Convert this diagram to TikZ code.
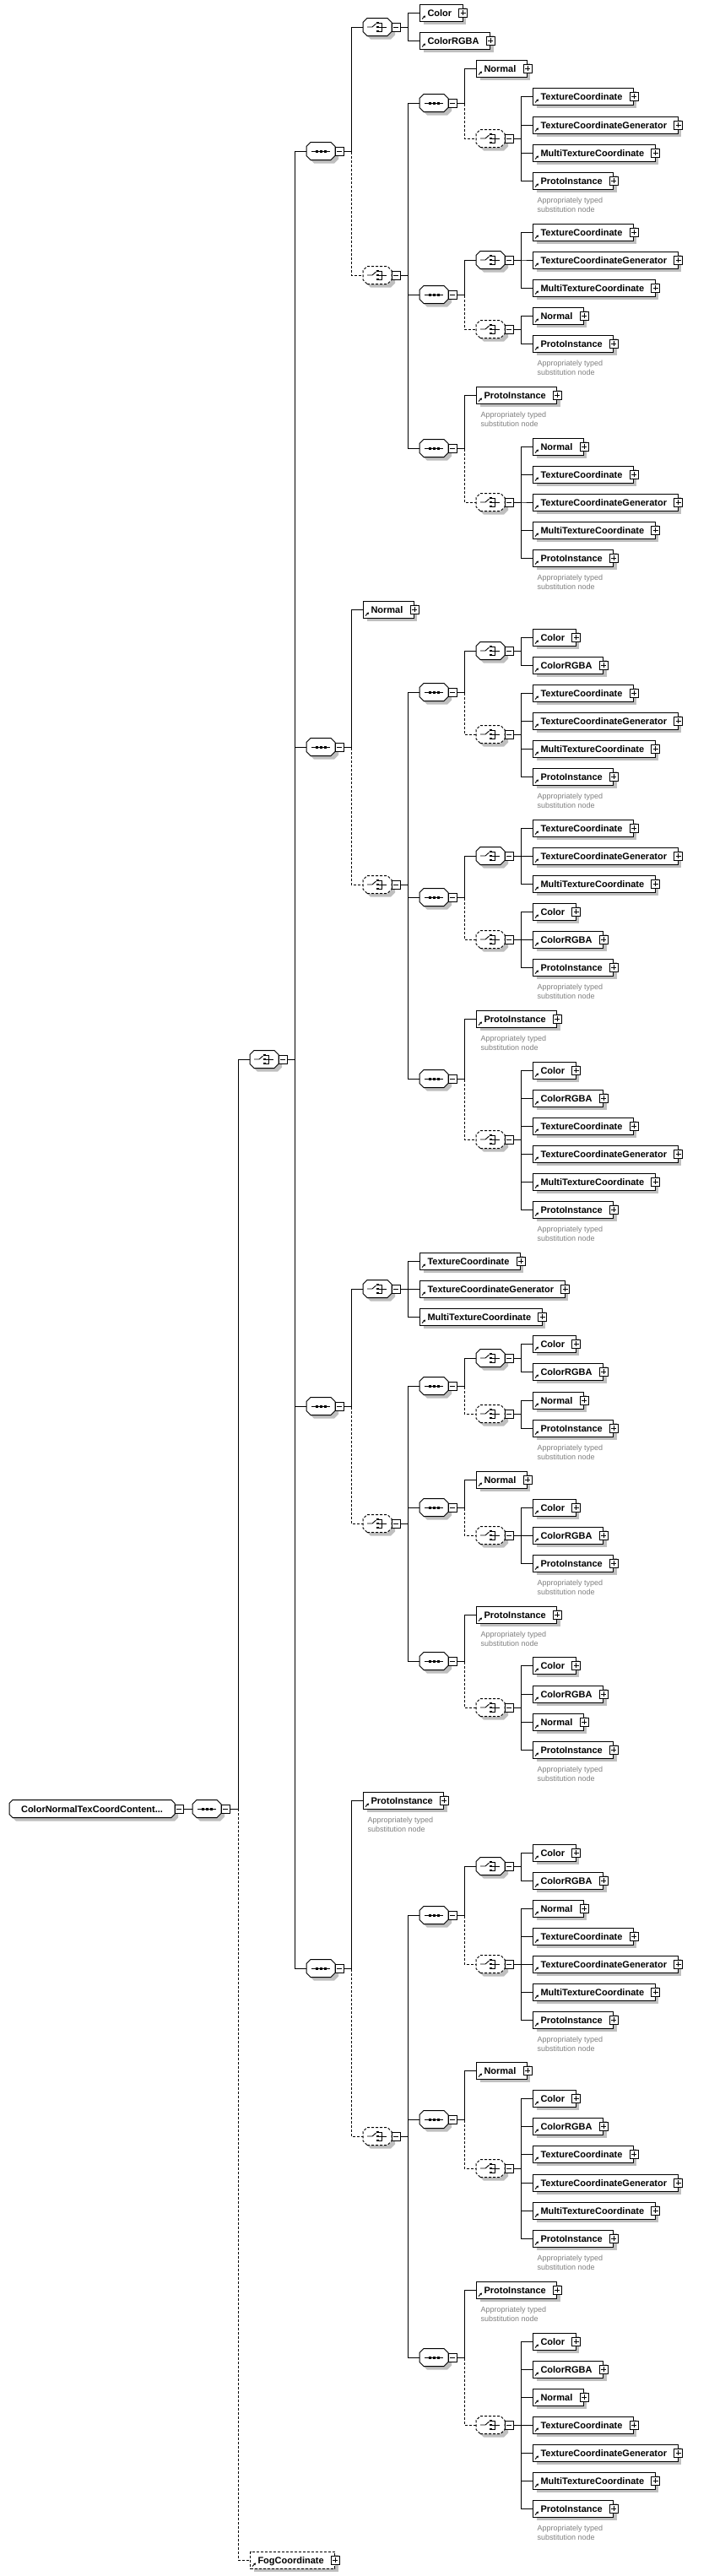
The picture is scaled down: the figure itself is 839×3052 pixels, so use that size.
\documentclass[tikz,border=0pt]{standalone}
\usepackage{fontspec}
\setmainfont{Liberation Sans}
\usepackage{tikz}
\usetikzlibrary{shadows,arrows.meta}

% octagon box for compositors and the root
\makeatletter
\pgfkeys{/pgf/oct cut/.initial=5pt}
\pgfdeclareshape{octbox}{
  \inheritsavedanchors[from=rectangle]
  \inheritanchorborder[from=rectangle]
  \inheritanchor[from=rectangle]{center}
  \inheritanchor[from=rectangle]{north}
  \inheritanchor[from=rectangle]{south}
  \inheritanchor[from=rectangle]{east}
  \inheritanchor[from=rectangle]{west}
  \inheritanchor[from=rectangle]{north east}
  \inheritanchor[from=rectangle]{north west}
  \inheritanchor[from=rectangle]{south east}
  \inheritanchor[from=rectangle]{south west}
  \backgroundpath{%
    \pgfmathsetlength\pgf@xc{\pgfkeysvalueof{/pgf/oct cut}}%
    \southwest \pgf@xa=\pgf@x \pgf@ya=\pgf@y
    \northeast \pgf@xb=\pgf@x \pgf@yb=\pgf@y
    \edef\oct@l{\the\pgf@xa}\edef\oct@r{\the\pgf@xb}%
    \edef\oct@b{\the\pgf@ya}\edef\oct@t{\the\pgf@yb}%
    \advance\pgf@xa by \pgf@xc \advance\pgf@xb by -\pgf@xc
    \advance\pgf@ya by \pgf@xc \advance\pgf@yb by -\pgf@xc
    \edef\oct@li{\the\pgf@xa}\edef\oct@ri{\the\pgf@xb}%
    \edef\oct@bi{\the\pgf@ya}\edef\oct@ti{\the\pgf@yb}%
    \pgfpathmoveto{\pgfqpoint{\oct@li}{\oct@b}}%
    \pgfpathlineto{\pgfqpoint{\oct@ri}{\oct@b}}%
    \pgfpathlineto{\pgfqpoint{\oct@r}{\oct@bi}}%
    \pgfpathlineto{\pgfqpoint{\oct@r}{\oct@ti}}%
    \pgfpathlineto{\pgfqpoint{\oct@ri}{\oct@t}}%
    \pgfpathlineto{\pgfqpoint{\oct@li}{\oct@t}}%
    \pgfpathlineto{\pgfqpoint{\oct@l}{\oct@ti}}%
    \pgfpathlineto{\pgfqpoint{\oct@l}{\oct@bi}}%
    \pgfpathclose
  }
}
\makeatother

\tikzset{
  shadowed/.style={drop shadow={shadow xshift=4pt,shadow yshift=-4pt,fill=black!25,opacity=1}},
  opt/.style={dash pattern=on 3pt off 2pt},
  plusbox/.style={draw,solid,fill=white,line width=0.8pt,minimum size=10pt,inner sep=0pt,anchor=center,
    path picture={\draw[solid,line width=0.8pt]
      ([xshift=2pt]path picture bounding box.west) -- ([xshift=-2pt]path picture bounding box.east)
      ([yshift=2pt]path picture bounding box.south) -- ([yshift=-2pt]path picture bounding box.north);}},
  minusbox/.style={draw,solid,fill=white,line width=0.8pt,minimum size=10pt,inner sep=0pt,anchor=west,
    path picture={\draw[solid,line width=0.8pt]
      ([xshift=2pt]path picture bounding box.west) -- ([xshift=-2pt]path picture bounding box.east);}},
  elem/.style={draw,fill=white,rectangle,anchor=west,minimum height=20pt,inner xsep=0pt,inner ysep=0pt,
    text height=8pt,text depth=0pt,font=\fontsize{11}{13}\selectfont\bfseries,
    execute at begin node=\hspace{9pt},execute at end node=\hspace{13pt},
    shadowed,label={[plusbox]east:},
    path picture={\draw[solid,line width=0.9pt,-{Triangle[length=2.4pt,width=2.8pt]}]
      ([shift={(2.5,-2.5)}]path picture bounding box.south west) -- ++(4,-4);}},
  comp/.style={octbox,draw,fill=white,anchor=west,
    minimum width=33pt,minimum height=20pt,inner sep=0pt,shadowed,label={[minusbox]east:}},
  seq/.style={comp,path picture={
    \coordinate (pc) at (path picture bounding box.center);
    \draw[solid,line width=0.9pt] ([xshift=-11pt]pc) -- ([xshift=11pt]pc);
    \foreach \d in {-5,0,5} \fill[black] ([shift={(\d-1.5,-1.5)}]pc) rectangle ++(3,3);}},
  choice/.style={comp,path picture={
    \coordinate (pc) at (path picture bounding box.center);
    \draw[solid,line width=0.9pt] ([xshift=-12pt]pc) -- ([xshift=-6pt]pc) -- ([shift={(-1.5,-4)}]pc);
    \foreach \d in {-5,0,5} \fill[black] ([shift={(-1,\d-1.25)}]pc) rectangle ++(2.5,2.5);
    \draw[solid,line width=0.9pt] ([shift={(1.5,-5)}]pc) -| ([xshift=5.5pt]pc) |- ([shift={(1.5,5)}]pc);
    \draw[solid,line width=0.9pt] ([xshift=1.5pt]pc) -- ([xshift=11pt]pc);}},
  root/.style={octbox,oct cut=4pt,draw,fill=white,anchor=west,
    minimum width=195pt,minimum height=20pt,inner sep=0pt,text height=8pt,text depth=0pt,
    font=\fontsize{11}{13}\selectfont\bfseries,shadowed,label={[minusbox]east:}},
  note/.style={anchor=north west,align=left,inner sep=0pt,font=\fontsize{9}{11}\selectfont,text=black!50},
  tree/.style={to path={([xshift=10pt]\tikztostart.east) -| ([xshift=-14pt]\tikztotarget.west) -- (\tikztotarget.west)}}
}

\begin{document}
\begin{tikzpicture}[x=1pt,y=-1pt,line width=1pt]
\path[fill=white,use as bounding box] (0,0) rectangle (839,3052);

% root, sequence, main choice
\node (r)   at ( 11,2143) [root] {ColorNormalTexCoordContent...};
\node (s)   at (228,2143) [seq] {};
\node (c)   at (296,1255) [choice] {};
\node (fog) at (296,3033) [elem,opt] {FogCoordinate};

% first sequence
\node (A)     at (363, 179) [seq] {};
\node (A1)    at (430,  32) [choice] {};
\node (A1a)   at (497,  15) [elem] {Color};
\node (A1b)   at (497,  48) [elem] {ColorRGBA};
\node (A2)    at (430, 326) [choice,opt] {};
\node (A2a)   at (497, 122) [seq] {};
\node (A2a1)  at (564,  81) [elem] {Normal};
\node (A2a2)  at (564, 164) [choice,opt] {};
\node (A2a2a) at (631, 114) [elem] {TextureCoordinate};
\node (A2a2b) at (631, 148) [elem] {TextureCoordinateGenerator};
\node (A2a2c) at (631, 181) [elem] {MultiTextureCoordinate};
\node (A2a2d) at (631, 214) [elem] {ProtoInstance};
\node (A2b)   at (497, 349) [seq] {};
\node (A2b1)  at (564, 308) [choice] {};
\node (A2b1a) at (631, 275) [elem] {TextureCoordinate};
\node (A2b1b) at (631, 308) [elem] {TextureCoordinateGenerator};
\node (A2b1c) at (631, 341) [elem] {MultiTextureCoordinate};
\node (A2b2)  at (564, 390) [choice,opt] {};
\node (A2b2a) at (631, 374) [elem] {Normal};
\node (A2b2b) at (631, 407) [elem] {ProtoInstance};
\node (A2c)   at (497, 531) [seq] {};
\node (A2c1)  at (564, 468) [elem] {ProtoInstance};
\node (A2c2)  at (564, 595) [choice,opt] {};
\node (A2c2a) at (631, 529) [elem] {Normal};
\node (A2c2b) at (631, 562) [elem] {TextureCoordinate};
\node (A2c2c) at (631, 595) [elem] {TextureCoordinateGenerator};
\node (A2c2d) at (631, 628) [elem] {MultiTextureCoordinate};
\node (A2c2e) at (631, 661) [elem] {ProtoInstance};

% second sequence
\node (B)     at (363, 885) [seq] {};
\node (B1)    at (430, 722) [elem] {Normal};
\node (B2)    at (430,1048) [choice,opt] {};
\node (B2a)   at (497, 820) [seq] {};
\node (B2a1)  at (564, 771) [choice] {};
\node (B2a1a) at (631, 755) [elem] {Color};
\node (B2a1b) at (631, 788) [elem] {ColorRGBA};
\node (B2a2)  at (564, 870) [choice,opt] {};
\node (B2a2a) at (631, 821) [elem] {TextureCoordinate};
\node (B2a2b) at (631, 854) [elem] {TextureCoordinateGenerator};
\node (B2a2c) at (631, 887) [elem] {MultiTextureCoordinate};
\node (B2a2d) at (631, 920) [elem] {ProtoInstance};
\node (B2b)   at (497,1063) [seq] {};
\node (B2b1)  at (564,1014) [choice] {};
\node (B2b1a) at (631, 981) [elem] {TextureCoordinate};
\node (B2b1b) at (631,1014) [elem] {TextureCoordinateGenerator};
\node (B2b1c) at (631,1047) [elem] {MultiTextureCoordinate};
\node (B2b2)  at (564,1113) [choice,opt] {};
\node (B2b2a) at (631,1080) [elem] {Color};
\node (B2b2b) at (631,1113) [elem] {ColorRGBA};
\node (B2b2c) at (631,1146) [elem] {ProtoInstance};
\node (B2c)   at (497,1278) [seq] {};
\node (B2c1)  at (564,1207) [elem] {ProtoInstance};
\node (B2c2)  at (564,1350) [choice,opt] {};
\node (B2c2a) at (631,1268) [elem] {Color};
\node (B2c2b) at (631,1301) [elem] {ColorRGBA};
\node (B2c2c) at (631,1334) [elem] {TextureCoordinate};
\node (B2c2d) at (631,1367) [elem] {TextureCoordinateGenerator};
\node (B2c2e) at (631,1400) [elem] {MultiTextureCoordinate};
\node (B2c2f) at (631,1433) [elem] {ProtoInstance};

% third sequence
\node (C)     at (363,1666) [seq] {};
\node (C1)    at (430,1527) [choice] {};
\node (C1a)   at (497,1494) [elem] {TextureCoordinate};
\node (C1b)   at (497,1527) [elem] {TextureCoordinateGenerator};
\node (C1c)   at (497,1560) [elem] {MultiTextureCoordinate};
\node (C2)    at (430,1805) [choice,opt] {};
\node (C2a)   at (497,1642) [seq] {};
\node (C2a1)  at (564,1609) [choice] {};
\node (C2a1a) at (631,1592) [elem] {Color};
\node (C2a1b) at (631,1625) [elem] {ColorRGBA};
\node (C2a2)  at (564,1675) [choice,opt] {};
\node (C2a2a) at (631,1659) [elem] {Normal};
\node (C2a2b) at (631,1692) [elem] {ProtoInstance};
\node (C2b)   at (497,1786) [seq] {};
\node (C2b1)  at (564,1753) [elem] {Normal};
\node (C2b2)  at (564,1819) [choice,opt] {};
\node (C2b2a) at (631,1786) [elem] {Color};
\node (C2b2b) at (631,1819) [elem] {ColorRGBA};
\node (C2b2c) at (631,1852) [elem] {ProtoInstance};
\node (C2c)   at (497,1968) [seq] {};
\node (C2c1)  at (564,1913) [elem] {ProtoInstance};
\node (C2c2)  at (564,2023) [choice,opt] {};
\node (C2c2a) at (631,1973) [elem] {Color};
\node (C2c2b) at (631,2007) [elem] {ColorRGBA};
\node (C2c2c) at (631,2040) [elem] {Normal};
\node (C2c2d) at (631,2073) [elem] {ProtoInstance};

% fourth sequence
\node (D)     at (363,2332) [seq] {};
\node (D1)    at (430,2133) [elem] {ProtoInstance};
\node (D2)    at (430,2531) [choice,opt] {};
\node (D2a)   at (497,2269) [seq] {};
\node (D2a1)  at (564,2211) [choice] {};
\node (D2a1a) at (631,2195) [elem] {Color};
\node (D2a1b) at (631,2228) [elem] {ColorRGBA};
\node (D2a2)  at (564,2327) [choice,opt] {};
\node (D2a2a) at (631,2261) [elem] {Normal};
\node (D2a2b) at (631,2294) [elem] {TextureCoordinate};
\node (D2a2c) at (631,2327) [elem] {TextureCoordinateGenerator};
\node (D2a2d) at (631,2360) [elem] {MultiTextureCoordinate};
\node (D2a2e) at (631,2393) [elem] {ProtoInstance};
\node (D2b)   at (497,2511) [seq] {};
\node (D2b1)  at (564,2453) [elem] {Normal};
\node (D2b2)  at (564,2569) [choice,opt] {};
\node (D2b2a) at (631,2486) [elem] {Color};
\node (D2b2b) at (631,2519) [elem] {ColorRGBA};
\node (D2b2c) at (631,2552) [elem] {TextureCoordinate};
\node (D2b2d) at (631,2586) [elem] {TextureCoordinateGenerator};
\node (D2b2e) at (631,2619) [elem] {MultiTextureCoordinate};
\node (D2b2f) at (631,2652) [elem] {ProtoInstance};
\node (D2c)   at (497,2793) [seq] {};
\node (D2c1)  at (564,2713) [elem] {ProtoInstance};
\node (D2c2)  at (564,2873) [choice,opt] {};
\node (D2c2a) at (631,2774) [elem] {Color};
\node (D2c2b) at (631,2807) [elem] {ColorRGBA};
\node (D2c2c) at (631,2840) [elem] {Normal};
\node (D2c2d) at (631,2873) [elem] {TextureCoordinate};
\node (D2c2e) at (631,2906) [elem] {TextureCoordinateGenerator};
\node (D2c2f) at (631,2939) [elem] {MultiTextureCoordinate};
\node (D2c2g) at (631,2972) [elem] {ProtoInstance};

% notes under ProtoInstance
\foreach \n in {A2a2d,A2b2b,A2c1,A2c2e,B2a2d,B2b2c,B2c1,B2c2f,C2a2b,C2b2c,C2c1,C2c2d,D1,D2a2e,D2b2f,D2c1,D2c2g}
  \node (\n-t) at ([shift={(5,9)}]\n.south west) [note] {Appropriately typed\\substitution node};

% connectors
\draw ([xshift=10pt]r.east) -- (s.west);
\draw[tree] (s) to (c);
\draw[tree,opt] (s) to (fog);
\draw[tree] (c) to (A);
\draw[tree] (c) to (B);
\draw[tree] (c) to (C);
\draw[tree] (c) to (D);

\draw[tree] (A) to (A1);
\draw[tree,opt] (A) to (A2);
\draw[tree] (A1) to (A1a);
\draw[tree] (A1) to (A1b);
\draw[tree] (A2) to (A2a);
\draw[tree] (A2) to (A2b);
\draw[tree] (A2) to (A2c);
\draw[tree] (A2a) to (A2a1);
\draw[tree,opt] (A2a) to (A2a2);
\foreach \k in {a,b,c,d} \draw[tree] (A2a2) to (A2a2\k);
\draw[tree] (A2b) to (A2b1);
\draw[tree,opt] (A2b) to (A2b2);
\foreach \k in {a,b,c} \draw[tree] (A2b1) to (A2b1\k);
\foreach \k in {a,b} \draw[tree] (A2b2) to (A2b2\k);
\draw[tree] (A2c) to (A2c1);
\draw[tree,opt] (A2c) to (A2c2);
\foreach \k in {a,b,c,d,e} \draw[tree] (A2c2) to (A2c2\k);

\draw[tree] (B) to (B1);
\draw[tree,opt] (B) to (B2);
\draw[tree] (B2) to (B2a);
\draw[tree] (B2) to (B2b);
\draw[tree] (B2) to (B2c);
\draw[tree] (B2a) to (B2a1);
\draw[tree,opt] (B2a) to (B2a2);
\foreach \k in {a,b} \draw[tree] (B2a1) to (B2a1\k);
\foreach \k in {a,b,c,d} \draw[tree] (B2a2) to (B2a2\k);
\draw[tree] (B2b) to (B2b1);
\draw[tree,opt] (B2b) to (B2b2);
\foreach \k in {a,b,c} \draw[tree] (B2b1) to (B2b1\k);
\foreach \k in {a,b,c} \draw[tree] (B2b2) to (B2b2\k);
\draw[tree] (B2c) to (B2c1);
\draw[tree,opt] (B2c) to (B2c2);
\foreach \k in {a,b,c,d,e,f} \draw[tree] (B2c2) to (B2c2\k);

\draw[tree] (C) to (C1);
\draw[tree,opt] (C) to (C2);
\foreach \k in {a,b,c} \draw[tree] (C1) to (C1\k);
\draw[tree] (C2) to (C2a);
\draw[tree] (C2) to (C2b);
\draw[tree] (C2) to (C2c);
\draw[tree] (C2a) to (C2a1);
\draw[tree,opt] (C2a) to (C2a2);
\foreach \k in {a,b} \draw[tree] (C2a1) to (C2a1\k);
\foreach \k in {a,b} \draw[tree] (C2a2) to (C2a2\k);
\draw[tree] (C2b) to (C2b1);
\draw[tree,opt] (C2b) to (C2b2);
\foreach \k in {a,b,c} \draw[tree] (C2b2) to (C2b2\k);
\draw[tree] (C2c) to (C2c1);
\draw[tree,opt] (C2c) to (C2c2);
\foreach \k in {a,b,c,d} \draw[tree] (C2c2) to (C2c2\k);

\draw[tree] (D) to (D1);
\draw[tree,opt] (D) to (D2);
\draw[tree] (D2) to (D2a);
\draw[tree] (D2) to (D2b);
\draw[tree] (D2) to (D2c);
\draw[tree] (D2a) to (D2a1);
\draw[tree,opt] (D2a) to (D2a2);
\foreach \k in {a,b} \draw[tree] (D2a1) to (D2a1\k);
\foreach \k in {a,b,c,d,e} \draw[tree] (D2a2) to (D2a2\k);
\draw[tree] (D2b) to (D2b1);
\draw[tree,opt] (D2b) to (D2b2);
\foreach \k in {a,b,c,d,e,f} \draw[tree] (D2b2) to (D2b2\k);
\draw[tree] (D2c) to (D2c1);
\draw[tree,opt] (D2c) to (D2c2);
\foreach \k in {a,b,c,d,e,f,g} \draw[tree] (D2c2) to (D2c2\k);
\end{tikzpicture}
\end{document}
